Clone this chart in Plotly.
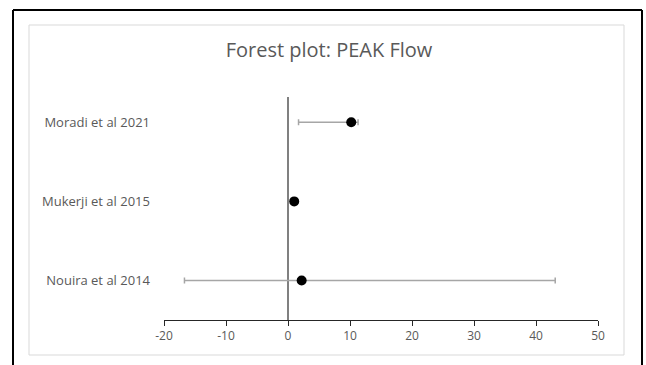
import plotly.graph_objects as go

studies = ["Nouira et al 2014", "Mukerji et al 2015", "Moradi et al 2021"]
positions = [0.5, 1.5, 2.5]
estimates = [2.2, 1.0, 10.2]
lower = [-16.7, 0.6, 1.7]
upper = [43.1, 1.4, 11.3]
x_ticks = [-20, -10, 0, 10, 20, 30, 40, 50]
x_tick_labels = ["-20", "-10", "0", "10", "20", "30", "40", "50"]

W, H = 646, 365
L, R, T, B = 164, 598, 97, 320

def px(x):
    return (x - L) / (R - L)

def py(y):
    return (B - y) / (B - T)

err_plus = [u - e for u, e in zip(upper, estimates)]
err_minus = [e - l for e, l in zip(estimates, lower)]

fig = go.Figure()
fig.add_trace(go.Scatter(
    x=estimates, y=positions, mode="markers",
    marker=dict(color="black", size=10),
    error_x=dict(type="data", symmetric=False, array=err_plus, arrayminus=err_minus,
                 color="#a6a6a6", thickness=1.5, width=3),
    showlegend=False, hoverinfo="x+y",
))

font_fam = "Open Sans, Noto Sans, sans-serif"
fig.update_layout(
    width=W, height=H, autosize=False,
    margin=dict(l=L, r=W - R, t=T, b=H - B),
    paper_bgcolor="white", plot_bgcolor="white",
    title=dict(text="Forest plot: PEAK Flow", x=329 / W, xref="container",
               y=1 - 50 / H, yref="container", yanchor="middle", xanchor="center",
               font=dict(family=font_fam, size=20, color="#595959")),
    xaxis=dict(range=[-20, 50], tickvals=x_ticks, ticktext=x_tick_labels,
               ticks="outside", ticklen=5,
               tickcolor="#262626", showline=True, linecolor="#262626", linewidth=1,
               showgrid=False, zeroline=True, zerolinecolor="#808080", zerolinewidth=1.5,
               tickfont=dict(family=font_fam, size=12, color="#595959"), fixedrange=True),
    yaxis=dict(range=[0, 2.82], tickvals=positions, ticktext=studies, showgrid=False,
               zeroline=False, showline=False, ticks="", ticklabelstandoff=13,
               tickfont=dict(family=font_fam, size=13, color="#595959"), fixedrange=True),
    shapes=[
        dict(type="rect", xref="paper", yref="paper", x0=px(29), x1=px(624), y0=py(355), y1=py(25),
             line=dict(color="#d9d9d9", width=1), layer="below"),
        dict(type="line", xref="paper", yref="paper", x0=px(13), x1=px(13), y0=py(10), y1=py(370),
             line=dict(color="black", width=2)),
        dict(type="line", xref="paper", yref="paper", x0=px(642), x1=px(642), y0=py(10), y1=py(370),
             line=dict(color="black", width=2)),
        dict(type="line", xref="paper", yref="paper", x0=px(13), x1=px(642), y0=py(10), y1=py(10),
             line=dict(color="black", width=2)),
    ],
)

fig.write_html("out.html", config={"displayModeBar": False},
               post_script="document.body.style.margin='0';document.body.style.overflow='hidden';")
